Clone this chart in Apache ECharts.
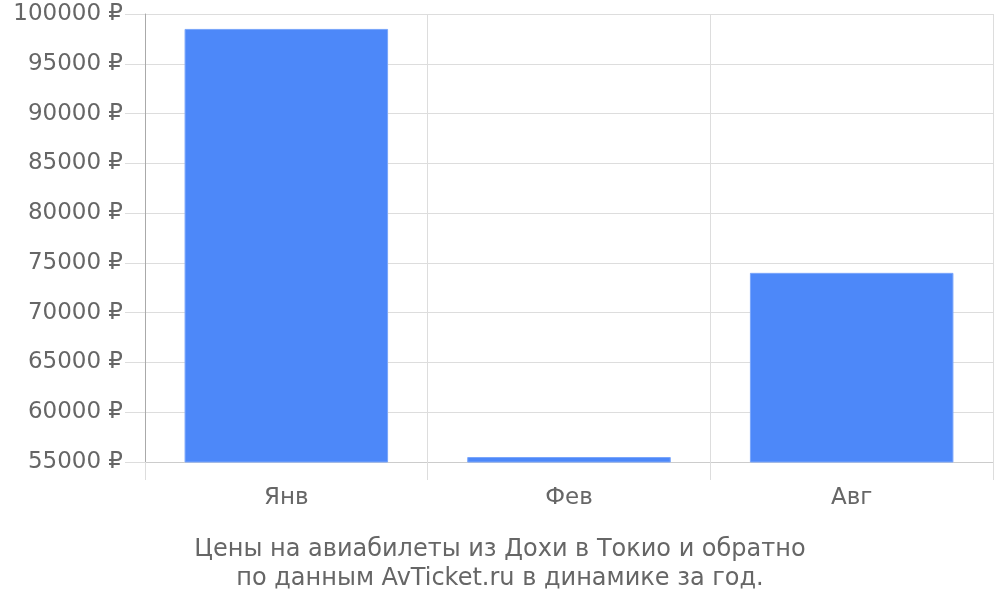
<!DOCTYPE html>
<html><head><meta charset="utf-8">
<script src="https://cdn.jsdelivr.net/npm/echarts@6/dist/echarts.min.js"></script>
<style>html,body{margin:0;padding:0;background:#fff}#c{width:1000px;height:600px}</style>
</head><body><div id="c"></div>
<script>
const categories = ['Янв', 'Фев', 'Авг'];
const prices = [98500, 55500, 74000];
const yMin = 55000, yMax = 100000, yStep = 5000;
const titleText = 'Цены на авиабилеты из Дохи в Токио и обратно\nпо данным AvTicket.ru в динамике за год.';

const chart = echarts.init(document.getElementById('c'), null, {renderer: 'canvas'});
const font = 'DejaVu Sans';
chart.setOption({
  animation: false,
  textStyle: {fontFamily: font},
  title: {
    text: titleText, left: 'center', top: 530,
    textStyle: {fontFamily: font, fontSize: 24, fontWeight: 'normal', color: '#666', lineHeight: 29, align: 'center'}
  },
  grid: {left: 145, right: 7, top: 14, bottom: 138, containLabel: false},
  xAxis: {
    type: 'category', data: categories, boundaryGap: true,
    axisLine: {show: true, lineStyle: {color: '#ccc', width: 1}},
    axisTick: {show: true, length: 18, lineStyle: {color: '#ddd'}},
    axisLabel: {fontFamily: font, fontSize: 23, color: '#666', margin: 25},
    splitLine: {show: true, lineStyle: {color: '#ddd'}}
  },
  yAxis: {
    type: 'value', min: yMin, max: yMax, interval: yStep,
    axisLine: {show: true, lineStyle: {color: '#aaa'}},
    axisTick: {show: true, length: 20, lineStyle: {color: '#ddd'}},
    axisLabel: {fontFamily: font, fontSize: 23, color: '#666', margin: 22, padding: [3, 0, 0, 0], formatter: v => v + ' ₽'},
    splitLine: {show: true, lineStyle: {color: '#ddd'}}
  },
  series: [{
    type: 'bar', data: prices, barCategoryGap: '28%',
    itemStyle: {color: '#4d88f9', borderColor: '#7aa6fb', borderWidth: 1}
  }]
});
</script></body></html>
